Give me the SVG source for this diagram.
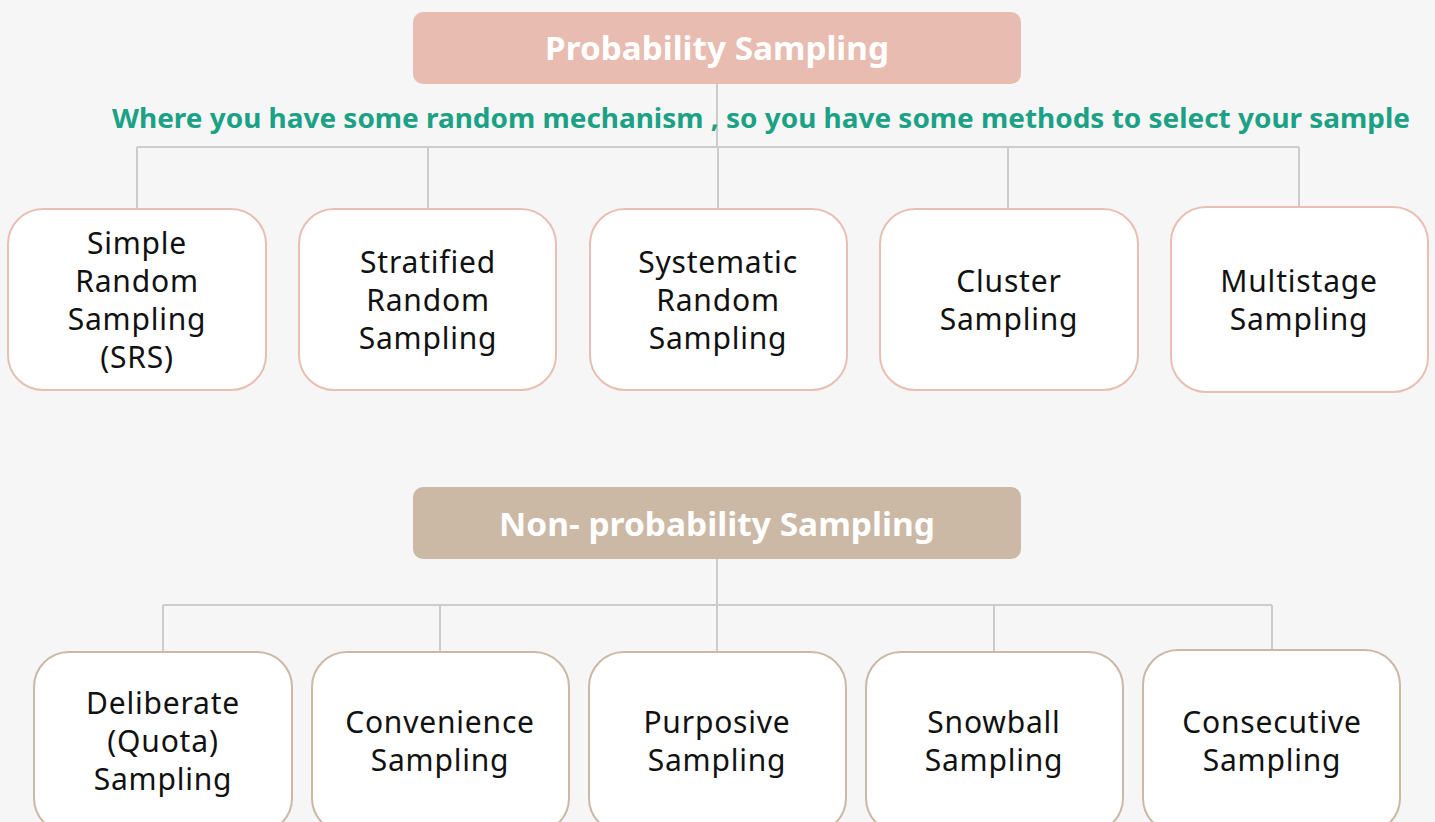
<svg xmlns="http://www.w3.org/2000/svg" width="1435" height="822" viewBox="0 0 1435 822">
<style>
.bg{fill:#f6f6f6}
.hdr1{fill:#e8bcb0}
.hdr2{fill:#cbb8a5}
.htxt{font-family:"Noto Sans","Open Sans",sans-serif;font-weight:bold;font-size:32px;fill:#ffffff;text-anchor:middle}
.sub{font-family:"Noto Sans","Open Sans",sans-serif;font-weight:bold;font-size:27px;fill:#1ba185}
.box1{fill:#ffffff;stroke:#e8bfb2;stroke-width:2}
.box2{fill:#ffffff;stroke:#cbb8a5;stroke-width:2}
.ntxt{font-family:"Noto Sans","Open Sans",sans-serif;font-size:30px;letter-spacing:0.8px;fill:#111111;text-anchor:middle}
.conn{fill:none;stroke:#cccccc;stroke-width:2}
</style>
<rect class="bg" x="0" y="0" width="1435" height="822"/>
<g id="connectors">
<path class="conn" d="M717,84 V147 M137,147 H1299 M137,147 V209 M428,147 V209 M718,147 V209 M1008,147 V209 M1299,147 V207"/>
<path class="conn" d="M717,559 V605 M163,605 H1272 M163,605 V652 M440,605 V652 M717,605 V652 M994,605 V652 M1272,605 V650"/>
</g>
<g id="prob-header">
<rect class="hdr1" x="413" y="12" width="608" height="72" rx="10"/>
<text class="htxt" x="717" y="60" textLength="344" lengthAdjust="spacingAndGlyphs">Probability Sampling</text>
</g>
<g id="prob-subtitle">
<text class="sub" x="112" y="128" textLength="1298" lengthAdjust="spacingAndGlyphs">Where you have some random mechanism , so you have some methods to select your sample</text>
</g>
<g id="srs">
<rect class="box1" x="8" y="209" width="258" height="181" rx="35"/>
<text class="ntxt"><tspan x="137" y="254">Simple</tspan><tspan x="137" y="292">Random</tspan><tspan x="137" y="330">Sampling</tspan><tspan x="137" y="368">(SRS)</tspan></text>
</g>
<g id="stratified">
<rect class="box1" x="299" y="209" width="257" height="181" rx="35"/>
<text class="ntxt"><tspan x="428" y="273">Stratified</tspan><tspan x="428" y="311">Random</tspan><tspan x="428" y="349">Sampling</tspan></text>
</g>
<g id="systematic">
<rect class="box1" x="590" y="209" width="257" height="181" rx="35"/>
<text class="ntxt"><tspan x="718" y="273">Systematic</tspan><tspan x="718" y="311">Random</tspan><tspan x="718" y="349">Sampling</tspan></text>
</g>
<g id="cluster">
<rect class="box1" x="880" y="209" width="258" height="181" rx="35"/>
<text class="ntxt"><tspan x="1009" y="292">Cluster</tspan><tspan x="1009" y="330">Sampling</tspan></text>
</g>
<g id="multistage">
<rect class="box1" x="1171" y="207" width="257" height="185" rx="35"/>
<text class="ntxt"><tspan x="1299" y="292">Multistage</tspan><tspan x="1299" y="330">Sampling</tspan></text>
</g>
<g id="nonprob-header">
<rect class="hdr2" x="413" y="487" width="608" height="72" rx="10"/>
<text class="htxt" x="717" y="536" textLength="436" lengthAdjust="spacingAndGlyphs">Non- probability Sampling</text>
</g>
<g id="quota">
<rect class="box2" x="34" y="652" width="258" height="181" rx="35"/>
<text class="ntxt"><tspan x="163" y="714">Deliberate</tspan><tspan x="163" y="752">(Quota)</tspan><tspan x="163" y="790">Sampling</tspan></text>
</g>
<g id="convenience">
<rect class="box2" x="312" y="652" width="257" height="181" rx="35"/>
<text class="ntxt"><tspan x="440" y="733">Convenience</tspan><tspan x="440" y="771">Sampling</tspan></text>
</g>
<g id="purposive">
<rect class="box2" x="589" y="652" width="257" height="181" rx="35"/>
<text class="ntxt"><tspan x="717" y="733">Purposive</tspan><tspan x="717" y="771">Sampling</tspan></text>
</g>
<g id="snowball">
<rect class="box2" x="866" y="652" width="257" height="181" rx="35"/>
<text class="ntxt"><tspan x="994" y="733">Snowball</tspan><tspan x="994" y="771">Sampling</tspan></text>
</g>
<g id="consecutive">
<rect class="box2" x="1143" y="650" width="257" height="183" rx="35"/>
<text class="ntxt"><tspan x="1272" y="733">Consecutive</tspan><tspan x="1272" y="771">Sampling</tspan></text>
</g>
</svg>
